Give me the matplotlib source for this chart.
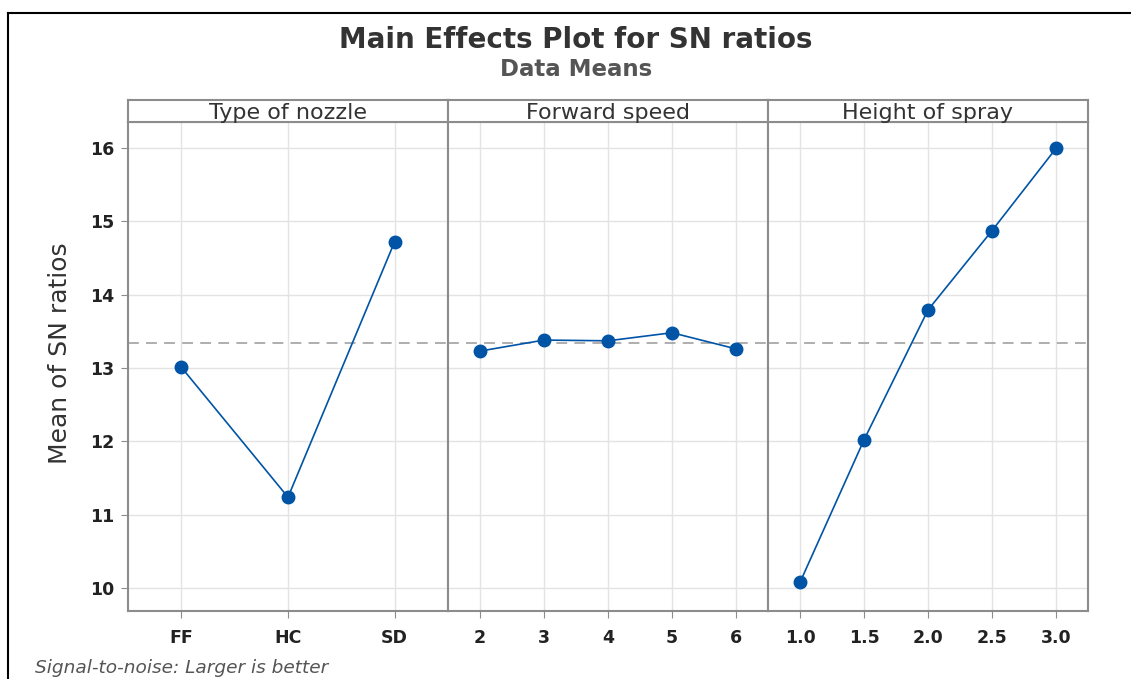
import matplotlib
matplotlib.use("Agg")
import matplotlib.pyplot as plt
from matplotlib.lines import Line2D

# ---- data ----
factors = ["Type of nozzle", "Forward speed", "Height of spray"]
nozzle_levels = ["FF", "HC", "SD"]
nozzle_means = [13.01, 11.24, 14.72]
speed_levels = ["2", "3", "4", "5", "6"]
speed_means = [13.23, 13.38, 13.37, 13.48, 13.26]
height_levels = ["1.0", "1.5", "2.0", "2.5", "3.0"]
height_means = [10.08, 12.02, 13.79, 14.87, 15.99]
overall_mean = 13.34
yticks = [10, 11, 12, 13, 14, 15, 16]

levels = [nozzle_levels, speed_levels, height_levels]
means = [nozzle_means, speed_means, height_means]

plt.rcParams['font.family'] = ['DejaVu Sans']

W, H = 1131, 679
fig = plt.figure(figsize=(W / 100, H / 100), dpi=100)
fig.patch.set_facecolor("white")

blue = "#0054A6"
frame = "#8c8c8c"
gridc = "#e3e3e3"

left_px, top_px, bot_px, pw = 128, 122, 611, 320
strip_top = 100
ax0 = None
for i, (lv, mv, name) in enumerate(zip(levels, means, factors)):
    x0 = (left_px + i * pw) / W
    ax = fig.add_axes([x0, 1 - bot_px / H, pw / W, (bot_px - top_px) / H],
                      sharey=ax0)
    if ax0 is None:
        ax0 = ax
    xs = list(range(len(lv)))
    ax.plot(xs, mv, color=blue, lw=1.2, marker="o", ms=9, zorder=3)
    ax.axhline(overall_mean, color="#a8a8a8", lw=1.3, ls=(0, (6, 4)), zorder=2)
    ax.set_xlim(-0.5, len(lv) - 0.5)
    ax.set_ylim(9.69, 16.35)
    ax.set_xticks(xs)
    ax.set_xticklabels(lv)
    ax.set_yticks(yticks)
    ax.grid(True, color=gridc, lw=1.0)
    ax.set_axisbelow(True)
    for s in ax.spines.values():
        s.set_color(frame)
        s.set_linewidth(1.5)
    ax.tick_params(axis="x", direction="out", length=5, color=frame,
                   labelsize=12.5, pad=8, labelcolor="#222222")
    ax.tick_params(axis="y", direction="out", length=5, color=frame,
                   labelsize=12.5, pad=5, labelcolor="#222222")
    for t in ax.get_xticklabels() + ax.get_yticklabels():
        t.set_fontweight("bold")
    if i > 0:
        ax.tick_params(axis="y", left=False, labelleft=False)
    # strip
    sax = fig.add_axes([x0, 1 - top_px / H, pw / W, (top_px - strip_top) / H])
    sax.set_xticks([])
    sax.set_yticks([])
    for s in sax.spines.values():
        s.set_color(frame)
        s.set_linewidth(1.5)
    sax.text(0.5, 0.42, name, ha="center", va="center", fontsize=16,
             color="#333333", transform=sax.transAxes)

ax0.set_ylabel("Mean of SN ratios", fontsize=18, color="#333333")
ax0.yaxis.set_label_coords(-0.175, 0.528)

fig.text(576 / W, 1 - 40 / H, "Main Effects Plot for SN ratios", ha="center",
         va="center", fontsize=20, fontweight="bold", color="#333333")
fig.text(576 / W, 1 - 69 / H, "Data Means", ha="center", va="center",
         fontsize=16.5, fontweight="bold", color="#555555")
fig.text(35 / W, 1 - 668 / H, "Signal-to-noise: Larger is better", ha="left",
         va="center", fontsize=13.3, style="italic", color="#555555")

# black screenshot border
fig.add_artist(Line2D([8 / W, 1], [1 - 13 / H, 1 - 13 / H], color="black",
                      lw=1.5, transform=fig.transFigure))
fig.add_artist(Line2D([8 / W, 8 / W], [0, 1 - 13 / H], color="black",
                      lw=1.5, transform=fig.transFigure))

fig.savefig("out.png", dpi=100)
